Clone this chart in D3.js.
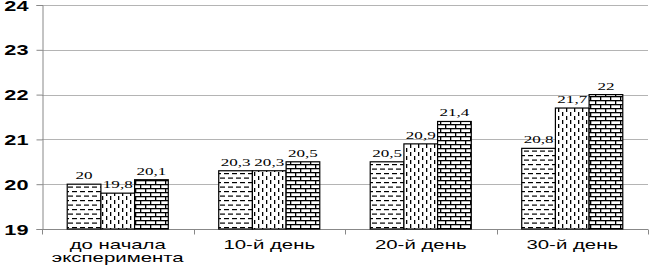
<!DOCTYPE html>
<html><head><meta charset="utf-8">
<script src="https://cdn.jsdelivr.net/npm/d3@7"></script>
<style>html,body{margin:0;padding:0;background:#fff;}svg{display:block;}</style>
</head><body>
<script>
const categories = [["до начала","эксперимента"],["10-й день"],["20-й день"],["30-й день"]];
const series1 = [20, 20.3, 20.5, 20.8];
const series2 = [19.8, 20.3, 20.9, 21.7];
const series3 = [20.1, 20.5, 21.4, 22];
const labels1 = ["20","20,3","20,5","20,8"];
const labels2 = ["19,8","20,3","20,9","21,7"];
const labels3 = ["20,1","20,5","21,4","22"];
const yTicks = [19,20,21,22,23,24];

(function(){
const W=652,H=267;
const svg=d3.select("body").append("svg").attr("width",W).attr("height",H);
const defs=svg.append("defs");
// pattern 1: dashed horizontal
const p1=defs.append("pattern").attr("id","p1").attr("patternUnits","userSpaceOnUse").attr("width",8).attr("height",9);
p1.append("rect").attr("width",8).attr("height",9).attr("fill","#fff");
p1.append("rect").attr("x",0).attr("y",2).attr("width",5).attr("height",1.2).attr("fill","#000");
p1.append("rect").attr("x",4).attr("y",6.5).attr("width",5).attr("height",1.2).attr("fill","#000");
p1.append("rect").attr("x",-4).attr("y",6.5).attr("width",5).attr("height",1.2).attr("fill","#000");
// pattern 2: dashed vertical
const p2=defs.append("pattern").attr("id","p2").attr("patternUnits","userSpaceOnUse").attr("width",8).attr("height",8);
p2.append("rect").attr("width",8).attr("height",8).attr("fill","#fff");
p2.append("rect").attr("x",2).attr("y",0).attr("width",1.3).attr("height",4).attr("fill","#000");
p2.append("rect").attr("x",6).attr("y",4).attr("width",1.3).attr("height",4).attr("fill","#000");
// pattern 3: horizontal brick
const p3=defs.append("pattern").attr("id","p3").attr("patternUnits","userSpaceOnUse").attr("width",10).attr("height",8);
p3.append("rect").attr("width",10).attr("height",8).attr("fill","#fff");
p3.append("rect").attr("x",0).attr("y",0).attr("width",10).attr("height",1.3).attr("fill","#000");
p3.append("rect").attr("x",0).attr("y",4).attr("width",10).attr("height",1.3).attr("fill","#000");
p3.append("rect").attr("x",0).attr("y",0).attr("width",1.3).attr("height",4).attr("fill","#000");
p3.append("rect").attr("x",5).attr("y",4).attr("width",1.3).attr("height",4).attr("fill","#000");

const mL=42,mR=648,mT=5,mB=229;
const x0=d3.scaleBand().domain(d3.range(categories.length)).range([mL,mR]).paddingInner(0.333).paddingOuter(0.1665);
const x1=d3.scaleBand().domain([0,1,2]).range([0,x0.bandwidth()]);
const y=d3.scaleLinear().domain([19,24]).range([mB,mT]);

svg.append("g").selectAll("line").data(yTicks.filter(t=>t>19)).join("line")
 .attr("x1",mL).attr("x2",mR).attr("y1",d=>Math.round(y(d))+0.5).attr("y2",d=>Math.round(y(d))+0.5)
 .attr("stroke","#b4b4b4").attr("stroke-width",1);

const yAxis=svg.append("g").attr("transform",`translate(${mL+0.5},0)`)
 .call(d3.axisLeft(y).tickValues(yTicks).tickSize(6).tickFormat(""));
yAxis.select(".domain").attr("stroke","#888");
yAxis.selectAll(".tick line").attr("stroke","#888");
yAxis.selectAll(".tick").append("text").text(d=>d)
 .attr("transform","translate(-14,5) scale(1.55,1)")
 .attr("text-anchor","end").attr("fill","#000")
 .attr("font-family","Liberation Sans, Arial, sans-serif").attr("font-size","14px").attr("font-weight","bold");

const xAxis=svg.append("g").attr("transform",`translate(0,${mB+0.5})`);
xAxis.append("line").attr("x1",mL).attr("x2",mR).attr("stroke","#888");
const bounds=d3.range(categories.length+1).map(i=>mL+i*(mR-mL)/categories.length);
xAxis.selectAll(".tk").data(bounds).join("line").attr("class","tk")
 .attr("x1",d=>Math.round(d)+0.5).attr("x2",d=>Math.round(d)+0.5).attr("y1",0).attr("y2",5).attr("stroke","#888");

const all=[series1,series2,series3], labs=[labels1,labels2,labels3], fills=["url(#p1)","url(#p2)","url(#p3)"];
all.forEach((s,si)=>{
 svg.append("g").selectAll("rect").data(s).join("rect")
  .attr("x",(d,i)=>x0(i)+x1(si)).attr("width",x1.bandwidth())
  .attr("y",d=>y(d)).attr("height",d=>mB-y(d))
  .attr("fill",fills[si]).attr("stroke","#000").attr("stroke-width",1.2);
 svg.append("g").selectAll("text").data(s).join("text")
  .text((d,i)=>labs[si][i])
  .attr("transform",(d,i)=>`translate(${x0(i)+x1(si)+x1.bandwidth()/2},${y(d)-5}) scale(1.55,1)`)
  .attr("text-anchor","middle").attr("font-family","Liberation Serif, Times New Roman, serif")
  .attr("font-size","11px").attr("fill","#000");
});

categories.forEach((lines,i)=>{
 const cx=x0(i)+x0.bandwidth()/2;
 lines.forEach((ln,li)=>{
  svg.append("text").text(ln)
   .attr("transform",`translate(${cx},${249+li*12.5}) scale(1.7,1)`)
   .attr("text-anchor","middle").attr("font-family","Liberation Sans, Arial, sans-serif")
   .attr("font-size","12px").attr("fill","#000");
 });
});
})();
</script>
</body></html>
